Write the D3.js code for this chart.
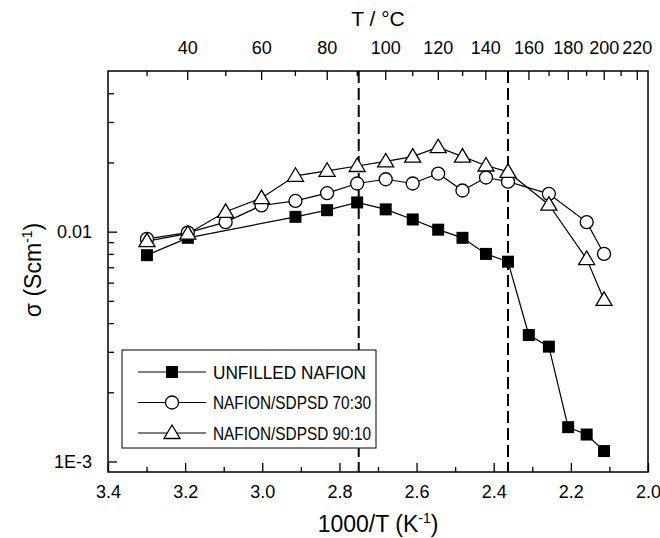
<!DOCTYPE html>
<html><head><meta charset="utf-8">
<script src="https://cdn.jsdelivr.net/npm/d3@7"></script>
<style>body{margin:0;background:#fff}svg{display:block}text{font-family:Arial,"Liberation Sans",sans-serif;fill:#000}</style>
</head><body><svg id="c" width="660" height="538"></svg>
<script>
// ---- data ----
const unfilledX = [3.299,3.193,2.914,2.832,2.754,2.680,2.610,2.544,2.481,2.420,2.363,2.309,2.257,2.207,2.159,2.114];
const unfilledY = [0.0079,0.0094,0.0116,0.0124,0.0134,0.0125,0.0113,0.0102,0.0094,0.0080,0.0074,0.00355,0.00316,0.00141,0.00131,0.00111];
const sd7030X = [3.299,3.193,3.095,3.002,2.914,2.832,2.754,2.680,2.610,2.544,2.481,2.420,2.363,2.257,2.159,2.114];
const sd7030Y = [0.0093,0.0099,0.0110,0.0130,0.0136,0.0147,0.0162,0.0169,0.0162,0.0179,0.0151,0.0172,0.0165,0.0146,0.0110,0.0080];
const sd9010X = [3.299,3.193,3.095,3.002,2.914,2.832,2.754,2.680,2.610,2.544,2.481,2.420,2.363,2.257,2.159,2.114];
const sd9010Y = [0.0091,0.0098,0.0122,0.0140,0.0175,0.0184,0.0193,0.0202,0.0212,0.0233,0.0212,0.0194,0.0182,0.0131,0.0076,0.00505];
const seriesNames = ["UNFILLED NAFION","NAFION/SDPSD 70:30","NAFION/SDPSD 90:10"];
const dashedX = [2.750, 2.363];
const bottomMajor = [3.4,3.2,3.0,2.8,2.6,2.4,2.2,2.0];
const bottomMinor = [3.3,3.1,2.9,2.7,2.5,2.3,2.1];
const topMajorC = [40,60,80,100,120,140,160,180,200,220];
const topMinorC = [30,50,70,90,110,130,150,170,190,210];
const yMajor = [0.001,0.01];
const yMajorLabels = ["1E-3","0.01"];
const yMinor = [0.002,0.003,0.004,0.005,0.006,0.007,0.008,0.009,0.02,0.03,0.04];

// ---- layout ----
const L=108,R=648,T=71,B=472;
const svg=d3.select("#c");
const x=d3.scaleLinear().domain([3.4,2.0]).range([L,R]);
const y=d3.scaleLog().domain([0.0009,0.05]).range([B,T]);
const c2x = t => x(1000/(t+273.15));

// dashed lines
svg.selectAll(".dash").data(dashedX).enter().append("line")
  .attr("x1",d=>x(d)).attr("x2",d=>x(d)).attr("y1",T).attr("y2",B)
  .attr("stroke","#000").attr("stroke-width",2).attr("stroke-dasharray","12,5");

// frame
svg.append("rect").attr("x",L).attr("y",T).attr("width",R-L).attr("height",B-T)
  .attr("fill","none").attr("stroke","#000").attr("stroke-width",1.5);

const fs=18;
// bottom axis
const gB=svg.append("g").attr("transform",`translate(0,${B})`);
gB.call(d3.axisBottom(x).tickValues(bottomMajor).tickSize(-9).tickPadding(13).tickFormat(d3.format(".1f")));
gB.append("g").call(d3.axisBottom(x).tickValues(bottomMinor).tickSize(-5).tickFormat(""));
// top axis
const gT=svg.append("g").attr("transform",`translate(0,${T})`);
gT.selectAll(".tmaj").data(topMajorC).enter().append("line")
  .attr("x1",c2x).attr("x2",c2x).attr("y1",0).attr("y2",9).attr("stroke","#000").attr("stroke-width",1.3);
gT.selectAll(".tmin").data(topMinorC).enter().append("line")
  .attr("x1",c2x).attr("x2",c2x).attr("y1",0).attr("y2",5).attr("stroke","#000").attr("stroke-width",1.3);
gT.selectAll(".tlab").data(topMajorC).enter().append("text")
  .attr("x",c2x).attr("y",-17).attr("text-anchor","middle").attr("font-size",fs).text(d=>d);
// left axis
const gL=svg.append("g").attr("transform",`translate(${L},0)`);
gL.call(d3.axisLeft(y).tickValues(yMajor).tickSize(-9).tickPadding(16).tickFormat((d,i)=>yMajorLabels[i]));
gL.append("g").call(d3.axisLeft(y).tickValues(yMinor).tickSize(-6).tickFormat(""));
svg.selectAll(".domain").remove();
svg.selectAll(".tick line").attr("stroke-width",1.3);
svg.selectAll(".tick text").attr("font-size",fs).attr("font-family","Arial, 'Liberation Sans', sans-serif");

// titles
svg.append("text").attr("x",378).attr("y",26).attr("text-anchor","middle").attr("font-size",21).text("T / °C");
const bt=svg.append("text").attr("x",378).attr("y",532).attr("text-anchor","middle").attr("font-size",23);
bt.append("tspan").text("1000/T (K");
bt.append("tspan").attr("font-size",14).attr("dy",-9).text("-1");
bt.append("tspan").attr("dy",9).text(")");
const yt=svg.append("text").attr("transform","translate(41,270) rotate(-90)").attr("text-anchor","middle").attr("font-size",23);
yt.append("tspan").text("σ (Scm");
yt.append("tspan").attr("font-size",14).attr("dy",-9).text("-1");
yt.append("tspan").attr("dy",9).text(")");

// series
const series=[
  {name:seriesNames[0],xs:unfilledX,ys:unfilledY,m:"square",tl:153},
  {name:seriesNames[1],xs:sd7030X,ys:sd7030Y,m:"circle",tl:158},
  {name:seriesNames[2],xs:sd9010X,ys:sd9010Y,m:"triangle",tl:158}
];
function marker(g,type,cx,cy){
  if(type==="square") g.append("rect").attr("x",cx-6).attr("y",cy-6).attr("width",12).attr("height",12).attr("fill","#000");
  else if(type==="circle") g.append("circle").attr("cx",cx).attr("cy",cy).attr("r",6.5).attr("fill","#fff").attr("stroke","#000").attr("stroke-width",1.3);
  else g.append("path").attr("d",`M${cx},${cy-8}L${cx+8},${cy+5.5}L${cx-8},${cy+5.5}Z`).attr("fill","#fff").attr("stroke","#000").attr("stroke-width",1.3);
}
const line=d3.line().x(d=>x(d[0])).y(d=>y(d[1]));
series.forEach(s=>{
  const pts=s.xs.map((v,i)=>[v,s.ys[i]]);
  svg.append("path").attr("d",line(pts)).attr("fill","none").attr("stroke","#000").attr("stroke-width",1.2);
});
series.forEach(s=>{
  const g=svg.append("g");
  s.xs.forEach((v,i)=>marker(g,s.m,x(v),y(s.ys[i])));
});

// legend
svg.append("rect").attr("x",122).attr("y",350).attr("width",254).attr("height",98)
  .attr("fill","#fff").attr("stroke","#000").attr("stroke-width",1);
series.forEach((s,i)=>{
  const ly=372+i*30.5;
  svg.append("line").attr("x1",138).attr("x2",206).attr("y1",ly).attr("y2",ly).attr("stroke","#000").attr("stroke-width",1.2);
  marker(svg.append("g"),s.m,172,ly);
  svg.append("text").attr("x",213).attr("y",ly+6.5).attr("font-size",17.5)
    .attr("textLength",s.tl).attr("lengthAdjust","spacingAndGlyphs").text(s.name);
});
</script></body></html>
